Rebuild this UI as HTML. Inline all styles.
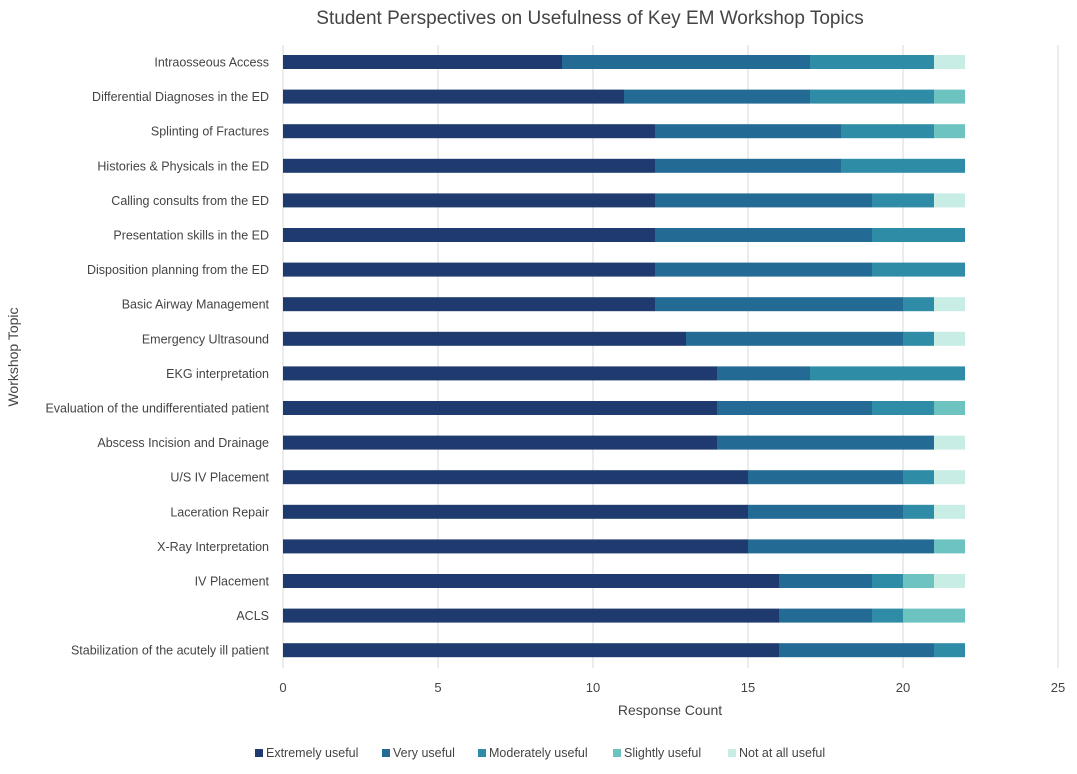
<!DOCTYPE html>
<html><head><meta charset="utf-8"><style>
body{margin:0;background:#fff;font-family:"Liberation Sans",sans-serif;}
svg text{font-family:"Liberation Sans",sans-serif;fill:#444;}
</style></head><body>
<svg id="c" width="1077" height="769"></svg>
<script>
const categories=["Intraosseous Access","Differential Diagnoses in the ED","Splinting of Fractures","Histories & Physicals in the ED","Calling consults from the ED","Presentation skills in the ED","Disposition planning from the ED","Basic Airway Management","Emergency Ultrasound","EKG interpretation","Evaluation of the undifferentiated patient","Abscess Incision and Drainage","U/S IV Placement","Laceration Repair","X-Ray Interpretation","IV Placement","ACLS","Stabilization of the acutely ill patient"];
const extremely=[9,11,12,12,12,12,12,12,13,14,14,14,15,15,15,16,16,16];
const very=[8,6,6,6,7,7,7,8,7,3,5,7,5,5,6,3,3,5];
const moderately=[4,4,3,4,2,3,3,1,1,5,2,0,1,1,0,1,1,1];
const slightly=[0,1,1,0,0,0,0,0,0,0,1,0,0,0,1,1,2,0];
const notAtAll=[1,0,0,0,1,0,0,1,1,0,0,1,1,1,0,1,0,0];
const seriesNames=["Extremely useful","Very useful","Moderately useful","Slightly useful","Not at all useful"];
const colors=["#1f3a6e","#236b94","#2e8ca6","#6cc3c0","#c8ede5"];
const ticks=[0,5,10,15,20,25];
const svg=document.getElementById('c');
const NS='http://www.w3.org/2000/svg';
function mk(t,a,p){const e=document.createElementNS(NS,t);for(const k in a)e.setAttribute(k,a[k]);(p||svg).appendChild(e);return e;}
const x=v=>283+v*31;
const y=i=>62+i*34.6;
let t=mk('text',{x:590,y:24,'text-anchor':'middle','font-size':19});t.textContent='Student Perspectives on Usefulness of Key EM Workshop Topics';


ticks.forEach(v=>{
 if(v>0){const l=mk('line',{x1:x(v),x2:x(v),y1:45,y2:668,stroke:'#d9d9d9'});
 
 }
 const tt=mk('text',{x:x(v),y:692,'text-anchor':'middle','font-size':13});tt.textContent=v;
 
 
});
const ax=mk('line',{x1:283,x2:283,y1:45,y2:668,stroke:'#d9d9d9'});


const series=[extremely,very,moderately,slightly,notAtAll];
categories.forEach((c,i)=>{
 const lt=mk('text',{x:269,y:y(i)+4.5,'text-anchor':'end','font-size':12.5});lt.textContent=c;
 
 
 let acc=0;
 series.forEach((s,k)=>{
  if(s[i]>0){const r=mk('rect',{x:x(acc),y:y(i)-7,width:x(acc+s[i])-x(acc),height:14,fill:colors[k]});
  
  }
  acc+=s[i];
 });
});
t=mk('text',{x:670,y:715,'text-anchor':'middle','font-size':14});t.textContent='Response Count';


t=mk('text',{x:0,y:0,'text-anchor':'middle','font-size':14,transform:'translate(18,357) rotate(-90)'});t.textContent='Workshop Topic';


const lx=[255,382,478,613,728];
seriesNames.forEach((n,k)=>{
 const g=mk('g',{});
 
 
 mk('rect',{x:lx[k],y:749,width:8,height:8,fill:colors[k]},g);
 const tx=mk('text',{x:lx[k]+11,y:757,'font-size':12.5},g);tx.textContent=n;
});
</script>
</body></html>
